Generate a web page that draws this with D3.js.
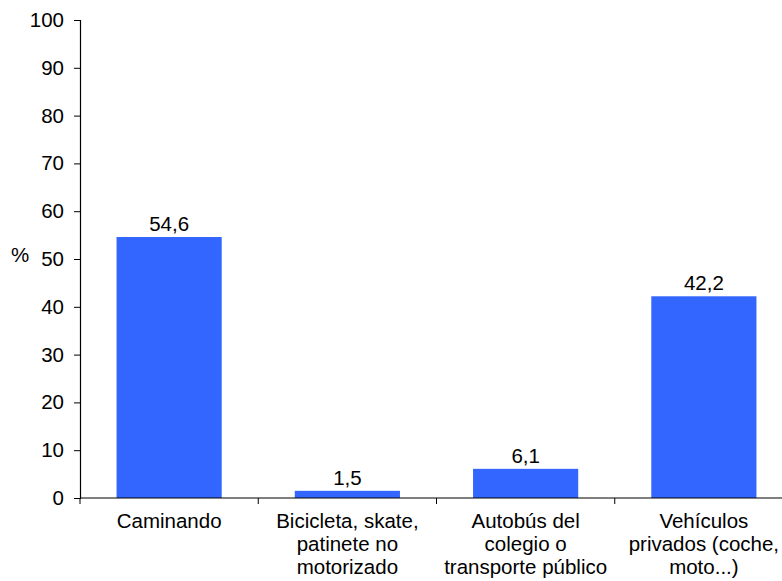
<!DOCTYPE html>
<html>
<head>
<meta charset="utf-8">
<script src="https://cdn.jsdelivr.net/npm/d3@7"></script>
<style>
  html, body { margin: 0; padding: 0; background: #fff; }
  svg text { font-family: "Liberation Sans", Arial, sans-serif; fill: #000; }
</style>
</head>
<body>
<svg id="chart" width="782" height="581"></svg>
<script>
// Modo de desplazamiento al colegio (%)
const categories = [
  ["Caminando"],
  ["Bicicleta, skate,", "patinete no", "motorizado"],
  ["Autobús del", "colegio o", "transporte público"],
  ["Vehículos", "privados (coche,", "moto...)"]
];
const values = [54.6, 1.5, 6.1, 42.2];
const valueLabels = ["54,6", "1,5", "6,1", "42,2"];
const yTicks = [0, 10, 20, 30, 40, 50, 60, 70, 80, 90, 100];
const yTitle = "%";

const svg = d3.select("#chart");
const fontSize = 20.5;
const barColor = "#3366FF";

const x = d3.scaleBand()
  .domain(d3.range(categories.length))
  .range([80, 793])
  .paddingInner(0.41)
  .paddingOuter(0.205);

const y = d3.scaleLinear().domain([0, 100]).range([498, 20]);

// Barras
svg.append("g")
  .selectAll("rect")
  .data(values)
  .join("rect")
  .attr("x", (d, i) => x(i))
  .attr("width", x.bandwidth())
  .attr("y", d => y(d))
  .attr("height", d => y(0) - y(d))
  .attr("fill", barColor);

// Etiquetas de valor
svg.append("g")
  .selectAll("text")
  .data(values)
  .join("text")
  .attr("x", (d, i) => x(i) + x.bandwidth() / 2)
  .attr("y", d => y(d) - 6)
  .attr("text-anchor", "middle")
  .attr("font-size", fontSize)
  .text((d, i) => valueLabels[i]);

// Eje Y
const yAxis = svg.append("g")
  .attr("transform", "translate(80,0)")
  .call(d3.axisLeft(y).tickValues(yTicks).tickSize(6).tickPadding(10).tickFormat(d3.format("d")));
yAxis.select(".domain").attr("stroke", "#000").attr("stroke-width", 1.2);
yAxis.selectAll(".tick line").attr("stroke", "#000");
yAxis.selectAll(".tick text")
  .attr("font-size", fontSize)
  .attr("font-family", "Liberation Sans, Arial, sans-serif")
  .attr("fill", "#000");

// Eje X con marcas entre categorías
const boundaries = d3.range(categories.length + 1);
const xg = svg.append("g");
xg.append("line")
  .attr("x1", 80).attr("x2", 793)
  .attr("y1", y(0)).attr("y2", y(0))
  .attr("stroke", "#000").attr("stroke-width", 1.2);
xg.selectAll("line.tick")
  .data(boundaries)
  .join("line")
  .attr("class", "tick")
  .attr("x1", i => 80 + i * (713 / categories.length))
  .attr("x2", i => 80 + i * (713 / categories.length))
  .attr("y1", y(0)).attr("y2", y(0) + 6)
  .attr("stroke", "#000");

// Etiquetas de categoría
const lab = svg.append("g")
  .selectAll("text")
  .data(categories)
  .join("text")
  .attr("text-anchor", "middle")
  .attr("font-size", fontSize)
  .attr("x", (d, i) => x(i) + x.bandwidth() / 2)
  .attr("y", 528);
lab.selectAll("tspan")
  .data((d, i) => d.map(t => ({ t, i })))
  .join("tspan")
  .attr("x", d => x(d.i) + x.bandwidth() / 2)
  .attr("dy", (d, j) => j === 0 ? 0 : 23)
  .text(d => d.t);

// Título del eje Y
svg.append("text")
  .attr("x", 20)
  .attr("y", 262)
  .attr("text-anchor", "middle")
  .attr("font-size", fontSize)
  .text(yTitle);
</script>
</body>
</html>
